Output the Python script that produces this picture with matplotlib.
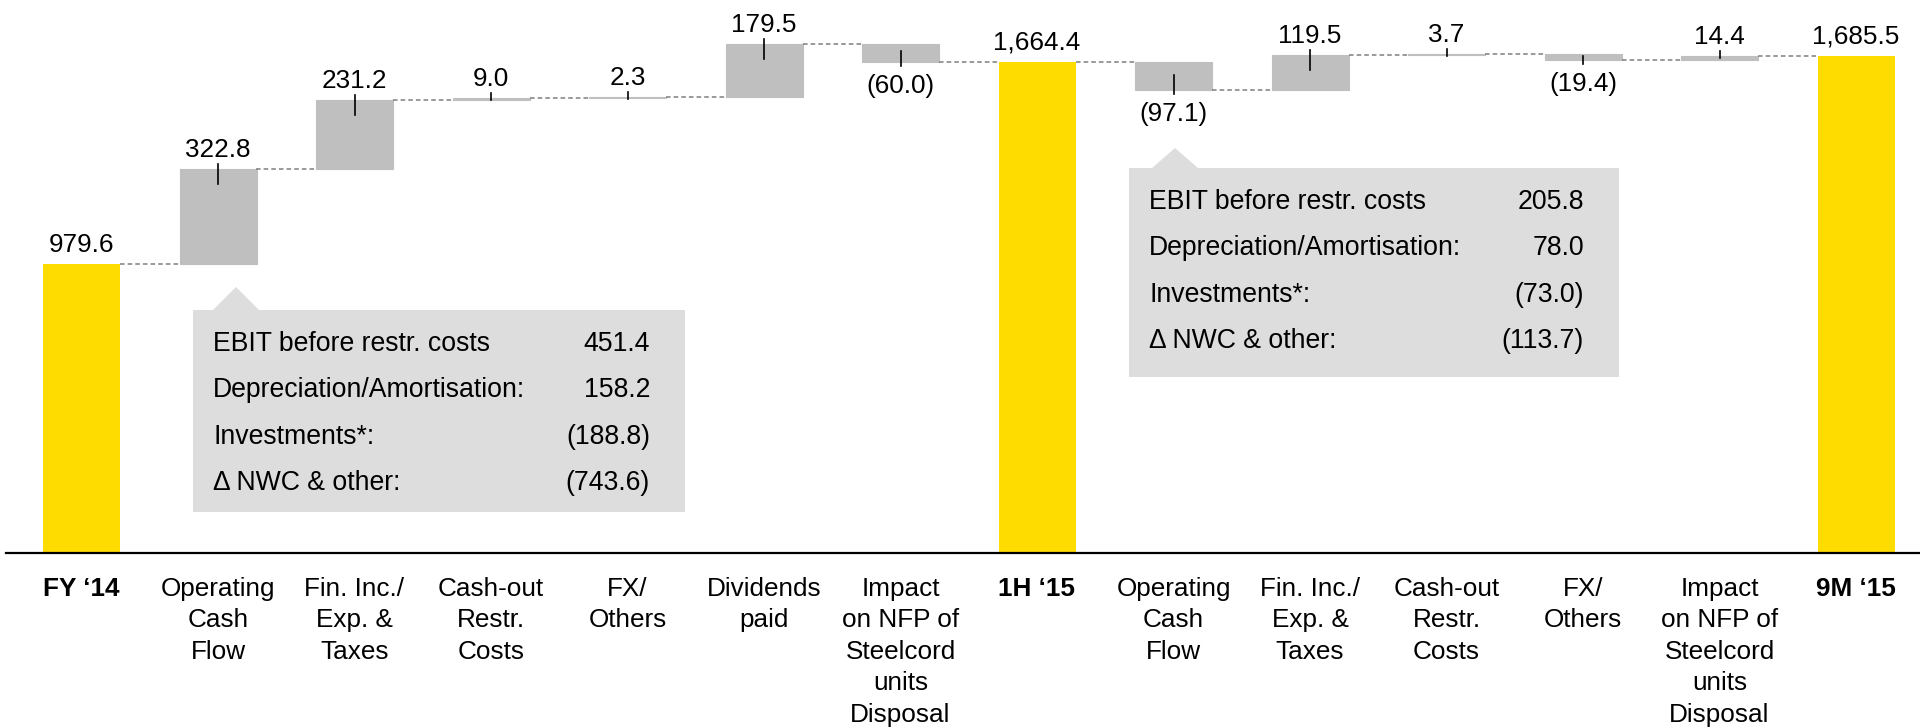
import matplotlib
matplotlib.use("Agg")
import matplotlib.pyplot as plt
from matplotlib.patches import Polygon, Rectangle

plt.rcParams['font.family'] = ['Liberation Sans', 'DejaVu Sans']

# waterfall data (EUR m)
categories = [
    "FY \u201814", "Operating\nCash\nFlow", "Fin. Inc./\nExp. &\nTaxes", "Cash-out\nRestr.\nCosts",
    "FX/\nOthers", "Dividends\npaid", "Impact\non NFP of\nSteelcord\nunits\nDisposal",
    "1H \u201815", "Operating\nCash\nFlow", "Fin. Inc./\nExp. &\nTaxes", "Cash-out\nRestr.\nCosts",
    "FX/\nOthers", "Impact\non NFP of\nSteelcord\nunits\nDisposal", "9M \u201815",
]
values = [979.6, 322.8, 231.2, 9.0, 2.3, 179.5, -60.0, 1664.4, -97.1, 119.5, 3.7, -19.4, 14.4, 1685.5]
is_total = [True, False, False, False, False, False, False, True, False, False, False, False, False, True]

# operating cash flow breakdowns
ocf_items = ["EBIT before restr. costs", "Depreciation/Amortisation:", "Investments*:", "\u0394 NWC & other:"]
ocf_fy_1h = [451.4, 158.2, -188.8, -743.6]
ocf_1h_9m = [205.8, 78.0, -73.0, -113.7]

YELLOW = "#FFDC00"
GREY_BAR = "#BFBFBF"
GREY_BOX = "#DDDDDD"
GREY_LINE = "#7F7F7F"
FS = 18.8

# pixel layout of the 1920x728 canvas
PX_X0, PX_STEP = 81.5, 136.5       # centre of first bar, distance between bars
PX_BASE, PX_PER_UNIT = 553, 0.2951  # baseline y (from top), px per unit


def px_x(px):
    return (px - PX_X0) / PX_STEP


def px_y(px):
    return (PX_BASE - px) / PX_PER_UNIT


def fmt(v, total=False):
    if total:
        return f"{v:,.1f}"
    return f"{v:.1f}" if v >= 0 else f"({-v:.1f})"


fig = plt.figure(figsize=(19.2, 7.28), dpi=100)
ax = fig.add_axes([0, 0, 1, 1])
ax.set_xlim(px_x(0), px_x(1920))
ax.set_ylim(px_y(728), px_y(0))
ax.axis("off")

unit = 1 / PX_PER_UNIT  # data units per pixel
width = 77 / PX_STEP

level = 0.0
tops = []
for i, (v, tot) in enumerate(zip(values, is_total)):
    if tot:
        level = v
        ax.bar(i, v, width=width, color=YELLOW, linewidth=0)
        ax.text(i, v + 12 * unit, fmt(v, True), ha="center", va="baseline", fontsize=FS)
    else:
        start = level
        level = level + v
        bottom, height = min(start, level), abs(v)
        ax.bar(i, height, bottom=bottom, width=width, color=GREY_BAR,
               edgecolor=GREY_BAR, linewidth=0.8)
        h_px = abs(v) * PX_PER_UNIT
        inner = min(15, max(h_px * 0.6, 2)) * unit
        if v >= 0:
            edge = bottom + height
            ax.plot([i, i], [edge + 5 * unit, edge - inner], color="black", lw=1.2)
            ax.text(i, edge + 12 * unit, fmt(v), ha="center", va="baseline", fontsize=FS)
        else:
            edge = bottom
            ax.plot([i, i], [edge - 4 * unit, edge + inner], color="black", lw=1.2)
            ax.text(i, edge - 31 * unit, fmt(v), ha="center", va="baseline", fontsize=FS)
    tops.append(level)

# dashed connectors
for i in range(len(values) - 1):
    ax.plot([i + width / 2, i + 1 - width / 2], [tops[i], tops[i]],
            color=GREY_LINE, lw=1.1, ls=(0, (3, 2)))

# baseline
ax.plot([px_x(6), px_x(1920)], [0, 0], color="black", lw=1.6)

# category labels
for i, (c, tot) in enumerate(zip(categories, is_total)):
    ax.text(i, px_y(577), c, ha="center", va="top", fontsize=FS,
            fontweight="bold" if tot else "normal", linespacing=1.39)


def callout(x0, x1, y0, y1, tip_x, tip_y, items, nums):
    ax.add_patch(Rectangle((px_x(x0), px_y(y1)), px_x(x1) - px_x(x0), px_y(y0) - px_y(y1),
                           facecolor=GREY_BOX, edgecolor="none"))
    ax.add_patch(Polygon([(px_x(tip_x - 23), px_y(y0)), (px_x(tip_x), px_y(tip_y)),
                          (px_x(tip_x + 23), px_y(y0))], closed=True,
                         facecolor=GREY_BOX, edgecolor="none"))
    for k, (lab, n) in enumerate(zip(items, nums)):
        yy = px_y(y0 + 41 + 46.3 * k)
        ax.text(px_x(x0 + 20), yy, lab, ha="left", va="baseline", fontsize=19.2)
        ax.text(px_x(x1 - 35), yy, fmt(n), ha="right", va="baseline", fontsize=19.2)


callout(193, 685, 310, 512, 236, 287, ocf_items, ocf_fy_1h)
callout(1129, 1619, 168, 377, 1175, 148, ocf_items, ocf_1h_9m)

fig.savefig("out.png", dpi=100)
